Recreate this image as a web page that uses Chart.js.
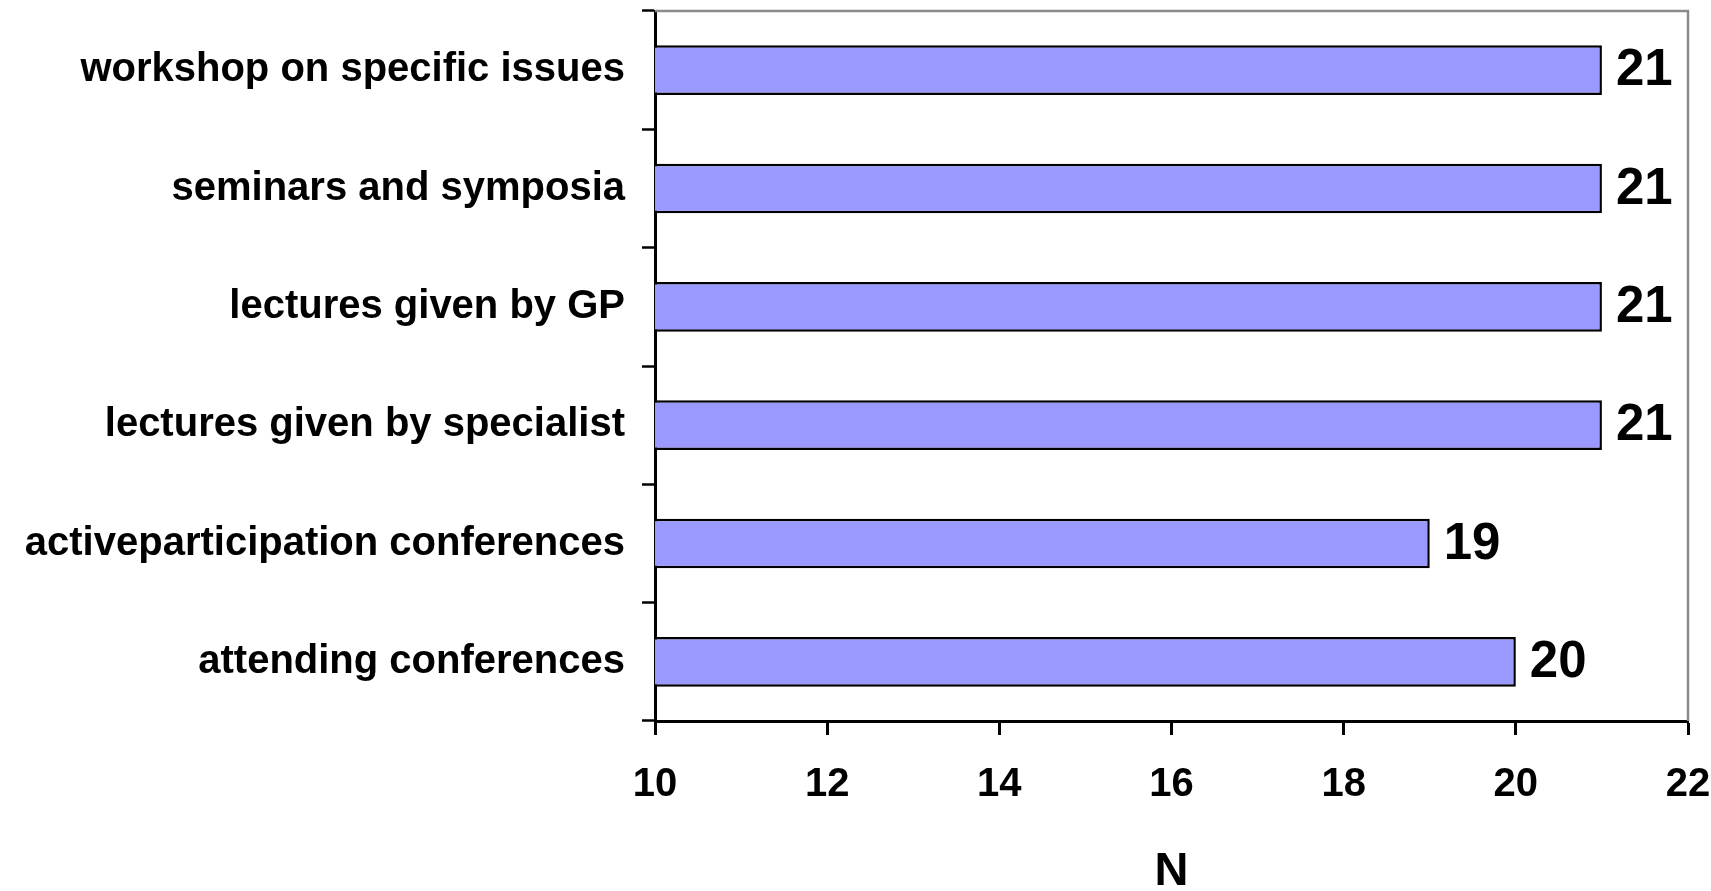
<!DOCTYPE html>
<html>
<head>
<meta charset="utf-8">
<title>Training activities</title>
<script src="https://cdn.jsdelivr.net/npm/chart.js@4.4.1/dist/chart.umd.min.js"></script>
<style>
  html, body { margin: 0; padding: 0; background: #fff; }
  #wrap { width: 1711px; height: 891px; }
</style>
</head>
<body>
<div id="wrap"><canvas id="myChart"></canvas></div>
<script>
var activities = [
  'workshop on specific issues',
  'seminars and symposia',
  'lectures given by GP',
  'lectures given by specialist',
  'activeparticipation conferences',
  'attending conferences'
];
var counts = [21, 21, 21, 21, 19, 20];
var xTicks = [10, 12, 14, 16, 18, 20, 22];

var fontFamily = '"Liberation Sans", Arial, Helvetica, sans-serif';

// value printed to the right of each bar
var barValues = {
  id: 'barValues',
  afterDatasetsDraw: function(chart) {
    var ctx = chart.ctx;
    var meta = chart.getDatasetMeta(0);
    ctx.save();
    ctx.font = 'bold 51px ' + fontFamily;
    ctx.fillStyle = '#000';
    ctx.textAlign = 'left';
    ctx.textBaseline = 'middle';
    meta.data.forEach(function(bar, i) {
      ctx.fillText(String(counts[i]), bar.x + 14, bar.y + 1);
    });
    ctx.restore();
  }
};

// grey frame on the top and right of the plot
var plotFrame = {
  id: 'plotFrame',
  afterDraw: function(chart) {
    var a = chart.chartArea;
    var ctx = chart.ctx;
    ctx.save();
    ctx.strokeStyle = '#8a8a8a';
    ctx.lineWidth = 2.5;
    ctx.beginPath();
    ctx.moveTo(a.left, a.top);
    ctx.lineTo(a.right, a.top);
    ctx.lineTo(a.right, a.bottom);
    ctx.stroke();
    ctx.restore();
  }
};

var chartdata = {
  labels: activities,
  datasets: [
    {
      label: 'N',
      data: counts,
      backgroundColor: '#9999ff',
      borderColor: '#000',
      borderWidth: 2.5,
      borderSkipped: false,
      categoryPercentage: 1,
      barPercentage: 0.42
    }
  ]
};

var graphTarget = document.getElementById('myChart');

var barGraph = new Chart(graphTarget, {
  type: 'bar',
  data: chartdata,
  plugins: [barValues, plotFrame],
  options: {
    indexAxis: 'y',
    responsive: true,
    maintainAspectRatio: false,
    animation: false,
    layout: { padding: { top: 11, right: 23, left: 0, bottom: 0 } },
    plugins: {
      legend: { display: false },
      tooltip: { enabled: false }
    },
    scales: {
      x: {
        min: 10,
        max: 22,
        afterBuildTicks: function(scale) {
          scale.ticks = xTicks.map(function(v) { return { value: v }; });
        },
        afterFit: function(scale) {
          scale.height = 170;
          scale.paddingLeft = 0;
          scale.paddingRight = 0;
        },
        border: { color: '#000', width: 3 },
        grid: {
          drawOnChartArea: false,
          drawTicks: true,
          tickLength: 14,
          tickColor: '#000',
          tickWidth: 3
        },
        ticks: {
          padding: 26,
          color: '#000',
          font: { family: fontFamily, size: 40, weight: 'bold' }
        },
        title: {
          display: true,
          text: 'N',
          color: '#000',
          padding: { top: 0, bottom: 0 },
          font: { family: fontFamily, size: 47, weight: 'bold', lineHeight: 0.8 }
        }
      },
      y: {
        afterFit: function(scale) {
          scale.width = 655;
          scale.paddingTop = 0;
          scale.paddingBottom = 0;
        },
        border: { color: '#000', width: 3 },
        grid: {
          offset: true,
          drawOnChartArea: false,
          drawTicks: true,
          tickLength: 13,
          tickColor: '#000',
          tickWidth: 2.5
        },
        ticks: {
          padding: 17,
          color: '#000',
          font: { family: fontFamily, size: 40, weight: 'bold' }
        }
      }
    }
  }
});
</script>
</body>
</html>
